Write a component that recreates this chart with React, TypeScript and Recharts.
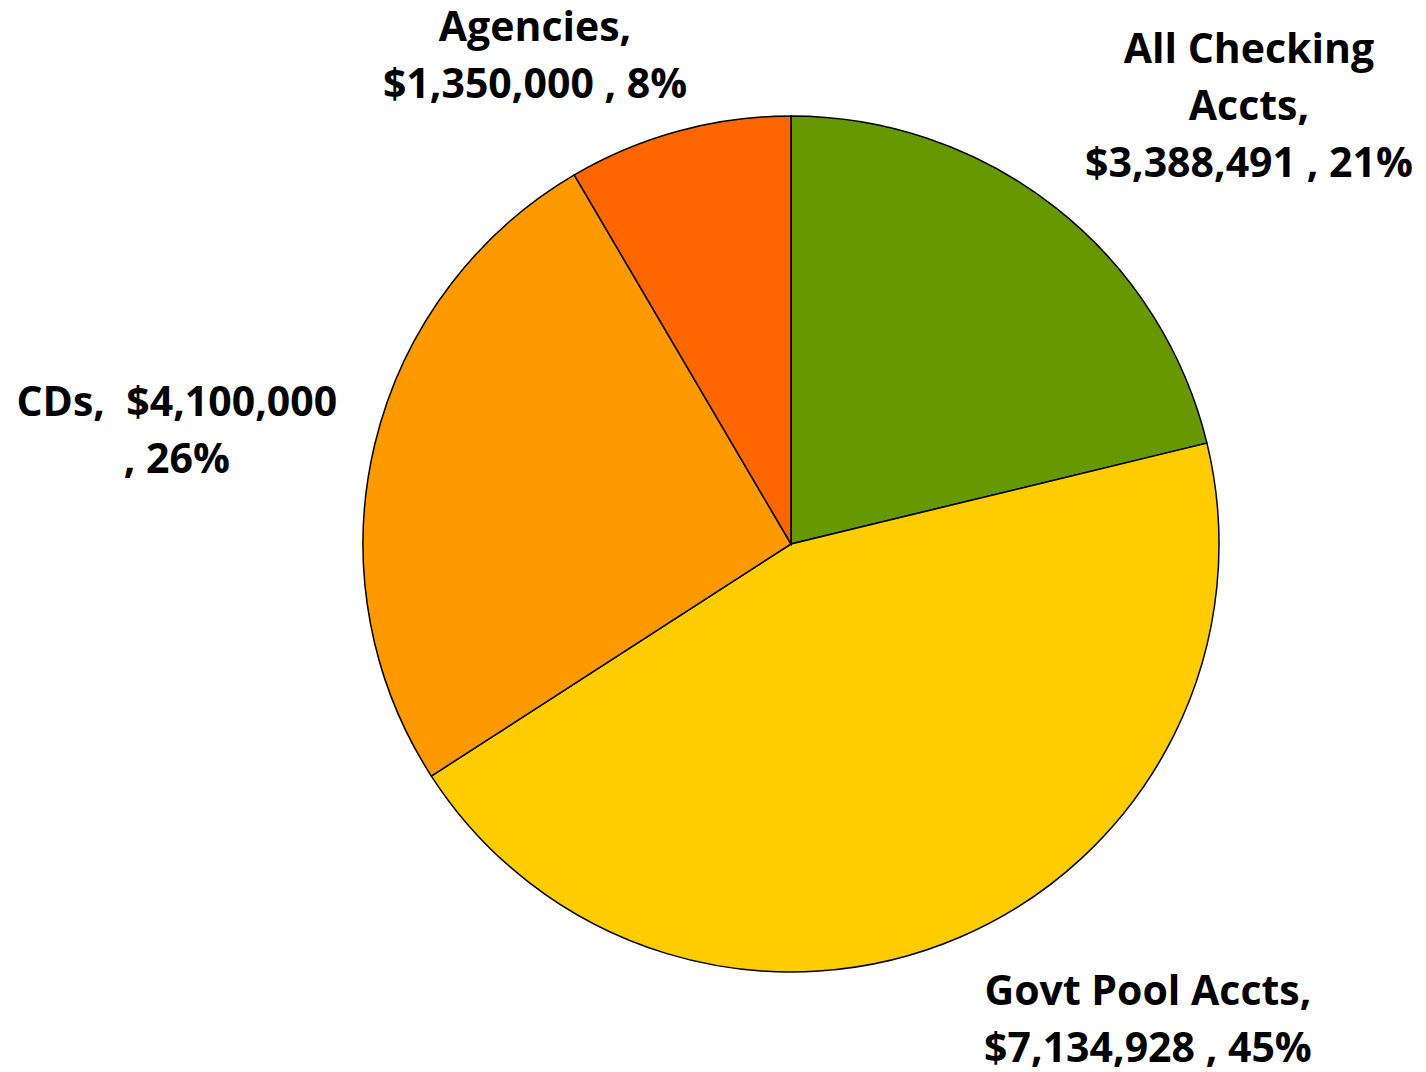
import { PieChart, Pie, Cell } from "recharts";

const names = ["All Checking Accts", "Govt Pool Accts", "CDs", "Agencies"];
const amounts = [3388491, 7134928, 4100000, 1350000];
const colors = ["#669900", "#FFCC00", "#FF9900", "#FF6600"];

// where each label block sits, as a fraction of the radius from the centre
const labelOffsets = [
  [1.07, -1.028],
  [0.834, 1.107],
  [-1.435, -0.269],
  [-0.598, -1.145],
];

const total = amounts.reduce((a, b) => a + b, 0);
const data = names.map((name, i) => ({ name, value: amounts[i] }));

function linesFor(i: number) {
  const money = "$" + amounts[i].toLocaleString("en-US");
  const pct = Math.round((amounts[i] / total) * 100) + "%";
  switch (i) {
    case 0:
      return ["All Checking", "Accts,", `${money} , ${pct}`];
    case 1:
      return ["Govt Pool Accts,", `${money} , ${pct}`];
    case 2:
      return [`CDs,  ${money}`, `, ${pct}`];
    default:
      return ["Agencies,", `${money} , ${pct}`];
  }
}

const renderLabel = (props: any) => {
  const { cx, cy, outerRadius, index } = props;
  const [fx, fy] = labelOffsets[index];
  const x = cx + fx * outerRadius;
  const y = cy + fy * outerRadius;
  const lines = linesFor(index);
  const lh = 57;
  return (
    <g key={`lbl-${index}`}>
      {lines.map((t, k) => (
        <text
          key={k}
          x={x}
          y={y + (k - (lines.length - 1) / 2) * lh}
          textAnchor="middle"
          dominantBaseline="central"
          fontFamily="'Open Sans', sans-serif"
          fontWeight="bold"
          fontSize={41}
          fill="#000"
          style={{ whiteSpace: "pre" }}
        >
          {t}
        </text>
      ))}
    </g>
  );
};

export default function App() {
  return (
    <PieChart
      width={1418}
      height={1064}
      margin={{ top: 0, right: 0, bottom: 0, left: 0 }}
    >
      <Pie
        data={data}
        dataKey="value"
        nameKey="name"
        cx={783}
        cy={536}
        outerRadius={428}
        startAngle={90}
        endAngle={-270}
        stroke="#000"
        strokeWidth={1.5}
        label={renderLabel}
        labelLine={false}
        isAnimationActive={false}
      >
        {data.map((d, i) => (
          <Cell key={d.name} fill={colors[i]} />
        ))}
      </Pie>
    </PieChart>
  );
}
